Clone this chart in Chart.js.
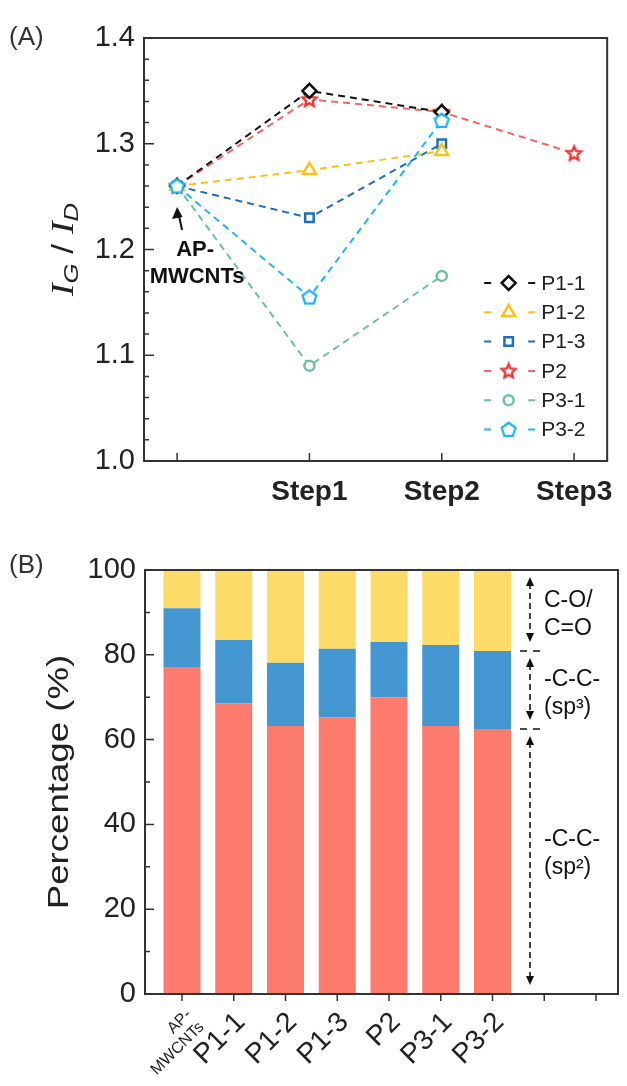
<!DOCTYPE html>
<html>
<head>
<meta charset="utf-8">
<script src="https://cdn.jsdelivr.net/npm/chart.js@4.4.1/dist/chart.umd.min.js"></script>
<style>
  html, body { margin: 0; padding: 0; background: #fff; }
  #wrap { position: relative; width: 627px; height: 1086px; }
  canvas { position: absolute; left: 0; }
  #chartA { top: 0; }
  #chartB { top: 520px; }
</style>
</head>
<body>
<div id="wrap">
  <canvas id="chartA" width="627" height="520"></canvas>
  <canvas id="chartB" width="627" height="566"></canvas>
</div>
<script>
// (A) IG/ID ratio per step
const stepLabels = ['', 'Step1', 'Step2', 'Step3'];
const ratioTicks = [1.0, 1.1, 1.2, 1.3, 1.4];
const p11 = [1.26, 1.35, 1.33, null];
const p12 = [1.26, 1.275, 1.293, null];
const p13 = [1.26, 1.23, 1.30, null];
const p2 = [1.26, 1.342, 1.33, 1.291];
const p31 = [1.26, 1.09, 1.175, null];
const p32 = [1.26, 1.155, 1.322, null];

// (B) carbon species percentage
const samples = [['AP-', 'MWCNTs'], 'P1-1', 'P1-2', 'P1-3', 'P2', 'P3-1', 'P3-2'];
const sp2 = [77.1, 68.6, 63.2, 65.3, 70.0, 63.2, 62.5];
const sp3 = [13.9, 14.9, 14.9, 16.1, 13.0, 19.1, 18.4];
const cO = [9.0, 16.5, 21.9, 18.6, 17.0, 17.7, 19.1];
const pctTicks = [0, 20, 40, 60, 80, 100];
const regionLabels = [['C-O/', 'C=O'], ['-C-C-', '(sp³)'], ['-C-C-', '(sp²)']];

const FONT = '"Liberation Sans", Arial, sans-serif';
Chart.defaults.font.family = FONT;
Chart.defaults.color = '#222';

function toPoints(arr) {
    return arr.map((v, i) => ({ x: i, y: v }));
}

// marcadores estrela / pentagono
function markerCanvas(color, sides, star) {
    const c = document.createElement('canvas');
    c.width = c.height = 19;
    const g = c.getContext('2d');
    const n = star ? sides * 2 : sides;
    g.beginPath();
    for (let k = 0; k < n; k++) {
        const r = star && k % 2 ? 3.4 : 7.3;
        const ang = -Math.PI / 2 + k * Math.PI * 2 / n;
        const px = 9.5 + r * Math.cos(ang), py = 10 + r * Math.sin(ang);
        if (k) g.lineTo(px, py); else g.moveTo(px, py);
    }
    g.closePath();
    g.fillStyle = '#fff';
    g.fill();
    g.lineWidth = 2.3;
    g.strokeStyle = color;
    g.stroke();
    return c;
}
const starImg = markerCanvas('#ee3333', 5, true);
const pentImg = markerCanvas('#22b5ee', 5, false);

function lineSet(label, arr, color, marker, radius, lineColor, order) {
    return {
        label: label,
        data: toPoints(arr),
        borderColor: lineColor || color,
        borderWidth: 2,
        borderDash: [7, 5],
        pointStyle: marker,
        pointRadius: radius,
        pointBorderColor: color,
        pointBackgroundColor: '#fff',
        pointBorderWidth: 2.5,
        tension: 0,
        fill: false,
        order: order
    };
}

function drawFrame(chart) {
    const { ctx, chartArea: a } = chart;
    ctx.save();
    ctx.strokeStyle = '#333';
    ctx.lineWidth = 2;
    ctx.strokeRect(a.left, a.top, a.right - a.left, a.bottom - a.top);
    ctx.restore();
}

function yMarks(chart, majors, minorDiv, majLen, minLen) {
    const { ctx, chartArea: a, scales: { y } } = chart;
    ctx.save();
    ctx.strokeStyle = '#333';
    ctx.lineWidth = 1.5;
    ctx.beginPath();
    majors.forEach((v, i) => {
        const py = y.getPixelForValue(v);
        ctx.moveTo(a.left, py);
        ctx.lineTo(a.left + majLen, py);
        if (i < majors.length - 1) {
            for (let k = 1; k < minorDiv; k++) {
                const m = v + (majors[i + 1] - v) * k / minorDiv;
                const pm = y.getPixelForValue(m);
                ctx.moveTo(a.left, pm);
                ctx.lineTo(a.left + minLen, pm);
            }
        }
    });
    ctx.stroke();
    ctx.restore();
}

function xMarks(chart, count, len) {
    const { ctx, chartArea: a, scales: { x } } = chart;
    ctx.save();
    ctx.strokeStyle = '#333';
    ctx.lineWidth = 1.5;
    ctx.beginPath();
    for (let i = 0; i < count; i++) {
        const px = x.getPixelForValue(i);
        ctx.moveTo(px, a.bottom);
        ctx.lineTo(px, a.bottom + len);
    }
    ctx.stroke();
    ctx.restore();
}

function arrowHead(ctx, x, y, dir) {
    ctx.beginPath();
    ctx.moveTo(x, y);
    ctx.lineTo(x - 4, y - dir * 9);
    ctx.lineTo(x + 4, y - dir * 9);
    ctx.closePath();
    ctx.fill();
}

const plotA = {
    id: 'plotA',
    afterDraw(chart) {
        const { ctx, chartArea: a, scales: { x, y } } = chart;
        drawFrame(chart);
        yMarks(chart, ratioTicks, 5, 10, 5);
        xMarks(chart, stepLabels.length, -8);

        ctx.save();
        // legenda
        const lx = a.right - 123, ly = a.bottom - 178, rowH = 29.3;
        chart.data.datasets.forEach((ds, i) => {
            const yy = ly + i * rowH;
            ctx.setLineDash([]);
            ctx.strokeStyle = ds.borderColor;
            ctx.lineWidth = 2;
            ctx.beginPath();
            ctx.moveTo(lx, yy); ctx.lineTo(lx + 7, yy);
            ctx.moveTo(lx + 44, yy); ctx.lineTo(lx + 51, yy);
            ctx.stroke();
            ctx.fillStyle = '#fff';
            ctx.strokeStyle = ds.pointBorderColor;
            ctx.lineWidth = 2.5;
            Chart.helpers.drawPoint(ctx, { pointStyle: ds.pointStyle, radius: ds.pointRadius, borderWidth: 2.5, rotation: 0 }, lx + 24.5, yy);
            ctx.fillStyle = '#222';
            ctx.font = '21px ' + FONT;
            ctx.textBaseline = 'middle';
            ctx.textAlign = 'left';
            ctx.fillText(ds.label, lx + 57, yy + 1);
        });

        // seta AP-MWCNTs
        const ax = x.getPixelForValue(0), ay = y.getPixelForValue(p11[0]);
        ctx.fillStyle = '#111';
        ctx.strokeStyle = '#111';
        ctx.lineWidth = 2;
        ctx.beginPath();
        ctx.moveTo(ax + 5, ay + 44);
        ctx.lineTo(ax + 1.5, ay + 28);
        ctx.stroke();
        ctx.beginPath();
        ctx.moveTo(ax, ay + 21);
        ctx.lineTo(ax - 5, ay + 33);
        ctx.lineTo(ax + 5.5, ay + 31);
        ctx.closePath();
        ctx.fill();
        ctx.font = 'bold 22px ' + FONT;
        ctx.textAlign = 'center';
        ctx.textBaseline = 'middle';
        ctx.fillText('AP-', ax + 18, ay + 64);
        ctx.fillText('MWCNTs', ax + 20, ay + 91);

        // titulos
        ctx.fillStyle = '#333';
        ctx.font = '26px ' + FONT;
        ctx.textAlign = 'left';
        ctx.fillText('(A)', 9, 38);

        ctx.translate(63, (a.top + a.bottom) / 2);
        ctx.rotate(-Math.PI / 2);
        ctx.scale(1.22, 1);
        ctx.fillStyle = '#222';
        ctx.textBaseline = 'alphabetic';
        const parts = [
            ['I', 'italic 31px "Liberation Serif", serif', 0],
            ['G', 'italic 21px ' + FONT, 5],
            [' / ', '29px ' + FONT, 0],
            ['I', 'italic 31px "Liberation Serif", serif', 0],
            ['D', 'italic 21px ' + FONT, 5]
        ];
        let total = 0;
        parts.forEach(p => { ctx.font = p[1]; total += ctx.measureText(p[0]).width; });
        let cx = -total / 2;
        parts.forEach(p => {
            ctx.font = p[1];
            ctx.fillText(p[0], cx, 10 + p[2]);
            cx += ctx.measureText(p[0]).width;
        });
        ctx.restore();
    }
};

const plotB = {
    id: 'plotB',
    afterDraw(chart) {
        const { ctx, chartArea: a, scales: { y } } = chart;
        drawFrame(chart);
        yMarks(chart, pctTicks, 2, 9, 5);
        xMarks(chart, 9, 7);

        ctx.save();
        const last = samples.length - 1;
        const bounds = [100, sp2[last] + sp3[last], sp2[last], 0];
        const axX = a.right - 88;
        ctx.strokeStyle = '#111';
        ctx.fillStyle = '#111';
        ctx.lineWidth = 1.6;
        for (let i = 0; i < 3; i++) {
            const top = y.getPixelForValue(bounds[i]) + 7;
            const bot = y.getPixelForValue(bounds[i + 1]) - 9;
            ctx.setLineDash([6, 4]);
            ctx.beginPath();
            ctx.moveTo(axX, top + 6);
            ctx.lineTo(axX, bot - 6);
            ctx.stroke();
            ctx.setLineDash([]);
            arrowHead(ctx, axX, top, -1);
            arrowHead(ctx, axX, bot, 1);
            if (i > 0) {
                const sy = y.getPixelForValue(bounds[i]);
                ctx.setLineDash([7, 6]);
                ctx.beginPath();
                ctx.moveTo(axX - 10, sy);
                ctx.lineTo(axX + 12, sy);
                ctx.stroke();
                ctx.setLineDash([]);
            }
            const mid = (y.getPixelForValue(bounds[i]) + y.getPixelForValue(bounds[i + 1])) / 2 + (i === 2 ? -8 : 4);
            ctx.font = '23px ' + FONT;
            ctx.textAlign = 'left';
            ctx.textBaseline = 'middle';
            ctx.fillText(regionLabels[i][0], axX + 14, mid - 14);
            ctx.fillText(regionLabels[i][1], axX + 14, mid + 14);
        }

        ctx.fillStyle = '#333';
        ctx.font = '26px ' + FONT;
        ctx.textBaseline = 'middle';
        ctx.fillText('(B)', 9, 46);

        ctx.translate(60, (a.top + a.bottom) / 2);
        ctx.rotate(-Math.PI / 2);
        ctx.scale(1.22, 1);
        ctx.fillStyle = '#222';
        ctx.font = '30px ' + FONT;
        ctx.textAlign = 'center';
        ctx.fillText('Percentage (%)', 0, 0);
        ctx.restore();
    }
};

new Chart(document.getElementById('chartA'), {
    type: 'line',
    data: {
        datasets: [
            lineSet('P1-1', p11, '#111111', 'rectRot', 7, null, 1),
            lineSet('P1-2', p12, '#f7c21a', 'triangle', 7.5, null, 1),
            lineSet('P1-3', p13, '#1d6fba', 'rect', 6, null, 1),
            lineSet('P2', p2, '#ee3333', starImg, 7, '#f4665c', 1),
            lineSet('P3-1', p31, '#6cc1a0', 'circle', 5, null, 1),
            lineSet('P3-2', p32, '#22b5ee', pentImg, 7, null, 0)
        ]
    },
    options: {
        responsive: false,
        animation: false,
        layout: { padding: { top: 38, right: 11, left: 0, bottom: 0 } },
        plugins: { legend: { display: false }, tooltip: { enabled: false } },
        scales: {
            x: {
                type: 'linear',
                min: -0.25,
                max: 3.25,
                grid: { display: false, drawTicks: false },
                border: { display: false },
                afterBuildTicks: s => { s.ticks = stepLabels.map((_, i) => ({ value: i })); },
                afterFit: s => { s.height = 59; },
                ticks: {
                    padding: 14,
                    font: { size: 28, weight: 'bold' },
                    color: '#222',
                    maxRotation: 0,
                    autoSkip: false,
                    callback: v => stepLabels[v]
                }
            },
            y: {
                min: 1.0,
                max: 1.4,
                grid: { display: false, drawTicks: false },
                border: { display: false },
                afterBuildTicks: s => { s.ticks = ratioTicks.map(v => ({ value: v })); },
                afterFit: s => { s.width = 144; },
                ticks: {
                    padding: 9,
                    font: { size: 29 },
                    color: '#222',
                    callback: v => v.toFixed(1)
                }
            }
        }
    },
    plugins: [plotA]
});

new Chart(document.getElementById('chartB'), {
    type: 'bar',
    data: {
        datasets: [
            { label: '-C-C- (sp2)', data: toPoints(sp2), backgroundColor: '#fc7b6d' },
            { label: '-C-C- (sp3)', data: toPoints(sp3), backgroundColor: '#4396d0' },
            { label: 'C-O/C=O', data: toPoints(cO), backgroundColor: '#fedb68' }
        ]
    },
    options: {
        responsive: false,
        animation: false,
        barPercentage: 0.715,
        categoryPercentage: 1.0,
        layout: { padding: { top: 50, right: 9, left: 0, bottom: 0 } },
        plugins: { legend: { display: false }, tooltip: { enabled: false } },
        scales: {
            x: {
                type: 'linear',
                stacked: true,
                offset: false,
                min: -0.715,
                max: 8.425,
                grid: { display: false, drawTicks: false, offset: false },
                border: { display: false },
                afterBuildTicks: s => { s.ticks = samples.map((_, i) => ({ value: i })); },
                afterFit: s => { s.height = 92; },
                ticks: {
                    padding: 12,
                    labelOffset: 7,
                    autoSkip: false,
                    minRotation: 45,
                    maxRotation: 45,
                    color: '#222',
                    font: c => (c.index === 0 ? { size: 16, lineHeight: 1.1 } : { size: 28 }),
                    callback: v => samples[v]
                }
            },
            y: {
                stacked: true,
                min: 0,
                max: 100,
                grid: { display: false, drawTicks: false },
                border: { display: false },
                afterBuildTicks: s => { s.ticks = pctTicks.map(v => ({ value: v })); },
                afterFit: s => { s.width = 145; },
                ticks: {
                    padding: 9,
                    font: { size: 29 },
                    color: '#222'
                }
            }
        }
    },
    plugins: [plotB]
});
</script>
</body>
</html>
